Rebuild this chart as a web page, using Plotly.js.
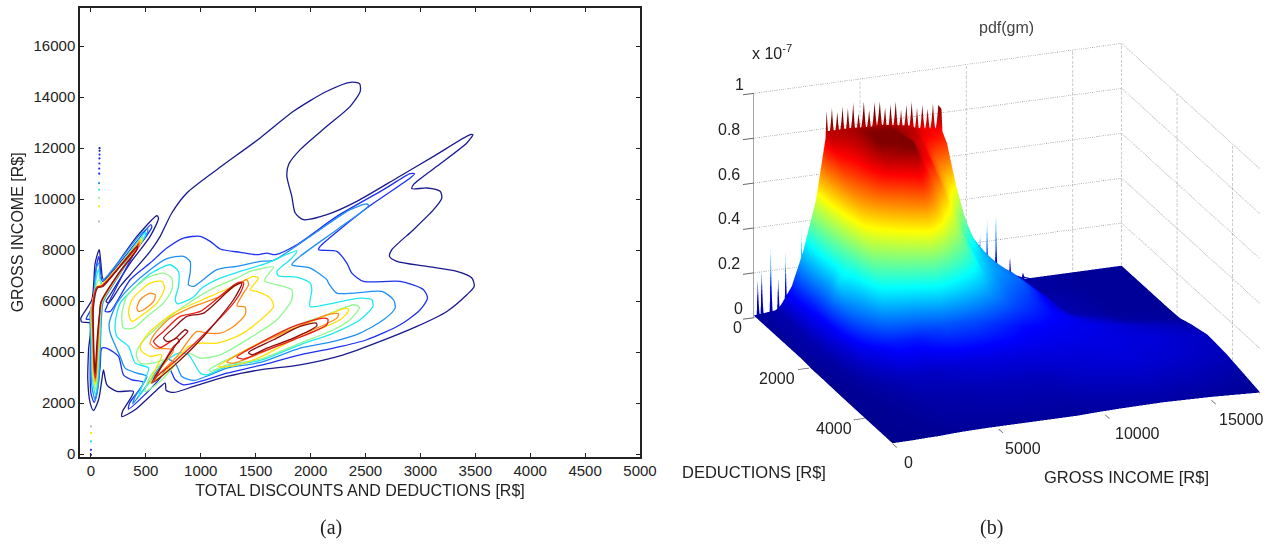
<!DOCTYPE html>
<html><head><meta charset="utf-8">
<script src="https://cdn.plot.ly/plotly-3.0.1.min.js"></script>
<style>html,body{margin:0;padding:0;background:#fff}#c{width:1271px;height:544px}</style>
</head><body><div id="c"></div>
<script>
// ---------- panel (a): contour lines ----------
const xTicks=[0,500,1000,1500,2000,2500,3000,3500,4000,4500,5000];
const yTicks=[0,2000,4000,6000,8000,10000,12000,14000,16000];

const outerX=[539,630,736,873,1146,1541,1844,2148,2361,2446,2452,2361,2148,1905,1799,1784,1829,1860,1936,2148,2421,2786,3120,3453,3478,3423,3150,2937,2922,3059,3180,3195,3120,2937,2740,2719,2786,3059,3332,3469,3490,3423,3241,2968,2634,2300,1905,1541,1238,934,752,685,676,585,402,281,287,387,236,145,114,99,69,23,-7,-29,-22,-7,-83,-92,8,38,75,90,114,418,600,615,539,357,175,138,160,266,357];
const outerY=[7954,8543,9459,10243,11159,12402,13448,14233,14586,14534,14233,13644,12859,11944,11355,10897,10113,9459,9197,9393,9916,10832,11682,12532,12532,12205,11290,10570,10413,10440,10309,10047,9589,8805,8020,7758,7562,7366,7170,6908,6581,6252,5598,5010,4421,3898,3506,3309,3048,2655,2420,2498,2786,2459,1740,1478,1674,2459,2459,2721,3309,2917,2132,1713,2001,2917,4094,5140,5180,5337,6056,7495,8018,7495,6841,8541,9352,9261,8541,7495,6252,5991,5925,6579,7037];

const blueX=[539,691,843,994,1085,1177,1359,1511,1602,1678,1875,2239,2664,2907,2947,2907,2512,2087,2072,2239,2330,2376,2482,2816,3028,3065,2998,2816,2512,2209,1905,1541,1238,995,843,767,721,691,630,448,342,351,478,372,296,251,160,99,84,53,29,-1,-7,-1,2,-44,14,44,72,84,105,418,545,554,387,145,129,175,357];
const blueY=[7497,8085,8478,8543,8347,8046,7915,7824,7889,7824,8216,9328,10374,11002,11002,10832,9655,8151,8020,7953,7495,7103,6776,6776,6449,6122,5664,5075,4487,4160,3898,3479,3178,2851,2721,2917,3309,3375,2982,2158,1766,2001,2812,2917,3113,3832,4120,4159,3440,2394,2027,2394,3440,4748,5271,5297,5794,7233,7756,7364,6775,8345,9000,8907,7822,5794,5598,5598,6841];

const azureX=[539,691,843,903,903,888,934,1146,1328,1541,1662,1996,2361,2512,2528,2239,1905,1829,1996,2148,2163,2239,2391,2649,2755,2770,2664,2451,2209,1905,1541,1238,1086,934,828,767,691,630,478,381,403,509,418,311,266,175,166,236,357];
const azureY=[7235,7667,7758,7562,7104,6646,6581,7235,7366,7562,7601,8543,9589,9812,9746,8805,7758,7431,7300,6843,6710,6318,6318,6383,6056,5729,5271,4748,4421,4160,3597,3374,3113,2891,3048,3571,3728,3440,2524,1975,2263,3048,3178,3375,3832,4748,5140,5925,6553];

const cyanX=[220,266,403,539,721,797,797,767,788,934,1010,1177,1359,1602,1875,1829,1693,1708,1875,1996,2011,1996,2209,2451,2558,2567,2451,2209,1905,1541,1238,1055,995,888,797,661,539,433,463,524,403,342,236];
const cyanY=[5140,5925,6553,7076,7429,7168,6579,6056,5899,6161,6514,6906,7168,7495,7979,7691,7168,6998,6945,6710,6449,5795,5925,6122,6056,5795,5271,4748,4290,3675,3440,3113,3178,3898,3963,3571,2851,2263,2655,3375,3571,4225,4617];

const greenRightX=[1077,1177,1420,1845,2148,2391,2445,2360,2209,1905,1541,1238,1086];
const greenRightY=[3309,3571,4094,5010,5467,5860,5768,5271,4879,4356,3728,3505,3244];
const yellowRightX=[1162,1329,1663,2087,2330,2346,2270,1845,1541,1298];
const yellowRightY=[3440,3898,4617,5337,5729,5637,5271,4486,3806,3466];
const orangeRightX=[1238,1420,1784,2148,2254,2239,1845,1511,1298];
const orangeRightY=[3610,4094,4813,5467,5507,5337,4552,3898,3571];
const redRightX=[1329,1511,1845,2118,2157,2148,1845,1541,1389];
const redRightY=[3806,4290,5010,5337,5297,5075,4486,3989,3728];
const darkRightX=[1435,1663,1905,2051,2057,1845,1602,1465];
const darkRightY=[3989,4486,5010,5140,5036,4552,4159,3898];

const greenBumpX=[281,327,509,661,736,736,661,509,387,296];
const greenBumpY=[5467,6187,6906,7102,6906,6448,5925,5402,4944,4944];
const yellowBumpX=[342,372,539,645,670,600,448,372];
const yellowBumpY=[5533,6056,6710,6775,6514,5925,5402,5206];
const orangeBumpX=[418,448,539,585,570,478,433];
const orangeBumpY=[5729,6056,6318,6252,5991,5664,5598];

const greenMidX=[1829,1829,1693,1420,1177,995,888,782,630,494,539,661,570,448,412,448,630,843,1116,1329,1450,1663,1587,1587,1754];
const greenMidY=[6448,6056,5271,4486,3898,3767,3963,3571,2851,2459,3048,3702,3571,3571,3898,4290,5075,5794,6514,6906,7168,7338,6906,6775,6579];
const yellowMidX=[1480,1526,1450,1511,1632,1663,1511,1329,1146,995,888,782,630,533,570,645,539,463,448,524,752,1086,1329];
const yellowMidY=[6972,6906,6448,6383,6121,5794,5140,4617,4356,4356,4225,3702,3048,2786,3178,3898,3832,4029,4225,4748,5533,6187,6645];
const orangeMidX=[1420,1435,1389,1329,1404,1404,1298,1177,1055,964,782,630,570,600,752,585,539,585,721,934,1177,1329];
const orangeMidY=[6841,6645,6318,5821,5768,5467,5010,4748,4748,4813,3832,3178,2917,3178,4094,4159,4356,4748,5337,5794,6187,6645];
const redMidX=[570,661,812,995,1329,1389,1374,1298,1055,782,600,570,752,806,782,630];
const redMidY=[4421,4813,5402,5598,6710,6736,6448,5925,4813,3702,3048,2851,4225,4421,4552,4186];
const darkMidX=[661,752,873,1025,1298,1374,1298,1025,782,554,797,882,858,752,691];
const darkMidY=[4552,4944,5402,5533,6579,6710,6056,4617,3571,2786,4421,4813,4879,4486,4421];

const azureForkX=[38,8,-1,-7,23,53,72,90,114,433,515,515,327,145,108,84,69];
const azureForkY=[2132,2655,4094,5533,6187,7364,7495,6841,6841,8541,8868,8711,7495,6252,5925,4094,2786];
const cyanForkX=[41,14,8,-1,23,53,72,84,105,433,494,494,311,129,99,78,62];
const cyanForkY=[2328,2917,4225,5533,6121,7037,7233,6841,6671,8384,8698,8567,7495,6187,5925,4094,2917];
const greenForkX=[41,17,11,2,32,59,78,96,424,469,469,296,114,90,72,56];
const greenForkY=[2524,3048,4356,5664,6252,6775,6841,6605,8253,8541,8410,7364,6121,5860,4094,3048];
const yellowForkX=[41,23,14,5,38,65,84,418,454,454,281,108,90,65,53];
const yellowForkY=[2721,3178,4486,5729,6383,6605,6605,8214,8437,8306,7233,6056,5794,4094,3178];
const orangeForkX=[41,26,17,11,47,90,424,442,436,266,99,84,62,50];
const orangeForkY=[2851,3309,4552,5794,6514,6579,8214,8345,8149,7168,5991,5664,4225,3309];
const redForkX=[41,29,20,14,53,99,424,430,424,251,93,81,59,47];
const redForkY=[2982,3375,4617,5794,6553,6605,8175,8253,8083,7076,5991,5598,4356,3375];
const darkForkX=[38,32,23,23,59,108,418,421,236,90,78,56,44];
const darkForkY=[3178,3505,4683,5794,6514,6579,8149,8044,6998,5951,5533,4486,3571];

const speckX=[78,78,78,77,76,75,75,74,74,73,72,72,0,0,0,0,0];
const speckY=[12000,11900,11750,11600,11400,11200,11000,10630,10370,10050,9720,9130,1086,825,498,171,-25];
const speckColor=['#1a1a8f','#1a1a8f','#1c30f0','#1c30f0','#1c30f0','#1c30f0','#1c30f0','#1e90f5','#20e8f0','#90f890','#ffe000','#bbbbbb','#bbbbbb','#ffe000','#20e8f0','#1c30f0','#1a1a8f'];

const jetLines=[
 [outerX,outerY,'#1a1a8f'],[blueX,blueY,'#1c30f0'],[azureX,azureY,'#1e90f5'],[cyanX,cyanY,'#20e8f0'],
 [greenRightX,greenRightY,'#90f890'],[yellowRightX,yellowRightY,'#ffe000'],[orangeRightX,orangeRightY,'#ff8c1a'],[redRightX,redRightY,'#e82020'],[darkRightX,darkRightY,'#8b0f0f'],
 [greenBumpX,greenBumpY,'#90f890'],[yellowBumpX,yellowBumpY,'#ffe000'],[orangeBumpX,orangeBumpY,'#ff8c1a'],
 [greenMidX,greenMidY,'#90f890'],[yellowMidX,yellowMidY,'#ffe000'],[orangeMidX,orangeMidY,'#ff8c1a'],[redMidX,redMidY,'#e82020'],[darkMidX,darkMidY,'#8b0f0f'],
 [azureForkX,azureForkY,'#1e90f5'],[cyanForkX,cyanForkY,'#20e8f0'],[greenForkX,greenForkY,'#90f890'],[yellowForkX,yellowForkY,'#ffe000'],[orangeForkX,orangeForkY,'#ff8c1a'],[redForkX,redForkY,'#e82020'],[darkForkX,darkForkY,'#8b0f0f']
];

// ---------- panel (b): surface ----------
const grossGrid=[0,1000,1660,2200,2800,3300,4500,5700,7000,8700,9500,10700,12700,15000,17300];
const dedGrid=[0,100,300,600,1100,1400,1700,2100,2500,3100,3800,5000];
const pdfRows=[
 [.01,.02,.05,.12,.30,.55,.57,.57,.55,.50,.20,.05,.01,.01,.01],
 [.01,.03,.13,.28,.50,.80,.80,.79,.77,.74,.35,.12,.02,.01,.01],
 [.01,.03,.15,.28,.50,.79,.82,.82,.80,.70,.33,.14,.02,.01,.01],
 [.01,.03,.14,.28,.48,.72,.84,.84,.79,.52,.30,.16,.02,.01,.01],
 [.01,.03,.12,.25,.42,.62,.86,.86,.72,.33,.26,.19,.03,.01,.01],
 [.01,.03,.10,.30,.36,.55,.78,.87,.58,.30,.24,.19,.03,.01,.01],
 [.01,.03,.09,.22,.30,.45,.58,.72,.47,.27,.21,.16,.04,.012,.01],
 [.005,.02,.06,.14,.22,.30,.36,.42,.32,.21,.17,.13,.07,.025,.012],
 [.005,.015,.04,.07,.10,.13,.13,.18,.17,.13,.11,.10,.085,.055,.03],
 [.003,.01,.02,.03,.04,.05,.055,.07,.08,.08,.08,.08,.08,.07,.05],
 [.002,.005,.01,.015,.02,.025,.03,.035,.04,.04,.05,.06,.07,.06,.04],
 [.001,.002,.004,.005,.008,.01,.012,.012,.012,.012,.015,.018,.02,.015,.005]
];
const crestGross=[3300,3425,3550,3675,3800,3925,4050,4175,4300,4425,4550,4675,4800,4925,5050,5175,5300,5425,5550,5675,5800,5925,6050,6175,6300,6425,6550,6675,6800,6925,7050,7175,7300,7425,7550,7675,7800,7925,8050,8175,8300,8425,8550,8700];
const crestDed=[40,100,160];
const crestLow=[.70,.78,.78,.78,.78,.78,.78,.78,.78,.78,.78,.78,.78,.78,.78,.78,.78,.78,.78,.78,.78,.78,.76,.76,.76,.76,.76,.76,.76,.76,.76,.76,.76,.74,.74,.74,.74,.74,.74,.74,.74,.74,.74,.66];
const crestPeak=[.89,.70,.90,.68,.88,.72,.90,.66,.89,.70,.91,.66,.86,.74,.91,.72,.87,.70,.90,.76,.90,.74,.87,.68,.88,.74,.89,.70,.85,.68,.87,.66,.88,.68,.85,.66,.86,.70,.84,.68,.86,.66,.85,.83];
const backGross=[0,140,190,240,325,375,425,750,800,850,1100,1150,1200,1450,1500,1550,2200,2250,2300,2500,6000,10590,10640,10690,10920,10970,11020,11340,11390,11440,12000,12050,12100,12610,12660,12710,13000,17300];
const backPeak=[.01,.01,.165,.01,.01,.21,.01,.01,.30,.01,.01,.16,.01,.01,.27,.01,.01,.39,.01,.02,.02,.02,.25,.02,.02,.31,.02,.02,.33,.02,.02,.12,.02,.02,.04,.02,.01,.01];
const backFlat=[.01,.01,.01,.01,.01,.01,.01,.01,.01,.01,.01,.01,.01,.01,.01,.01,.01,.01,.01,.02,.02,.02,.02,.02,.02,.02,.02,.02,.02,.02,.02,.02,.02,.02,.02,.02,.01,.01];
const backDed=[0,50];
const zTicks=[0,.2,.4,.6,.8,1];
const zLabels=['0','0.2','0.4','0.6','0.8','1'];
const grossTicks=[0,5000,10000,15000];
const dedTicks=[0,2000,4000];
const grossEnd=17300, dedEnd=5000;

const jet=[[0,'#00008f'],[.125,'#0000ff'],[.375,'#00ffff'],[.625,'#ffff00'],[.875,'#ff0000'],[1,'#800000']];
const plain={family:'Liberation Sans, Arial, sans-serif',size:15,color:'#222'};
const titleFont={family:plain.family,size:16,color:'#222'};
const tickText={family:plain.family,size:16,color:'#222'};

const traces=[];
jetLines.forEach(l=>traces.push({type:'scatter',mode:'lines',x:l[0].concat(l[0][0]),y:l[1].concat(l[1][0]),
  line:{color:l[2],width:1.3,shape:'spline',smoothing:.7},hoverinfo:'skip',xaxis:'x',yaxis:'y'}));
traces.push({type:'scatter',mode:'markers',x:speckX,y:speckY,marker:{size:2.2,color:speckColor},hoverinfo:'skip',xaxis:'x',yaxis:'y'});

const surf={type:'surface',showscale:false,cmin:0,cmax:.85,colorscale:jet,hoverinfo:'skip',
  lighting:{ambient:1,diffuse:0,specular:0,roughness:1,fresnel:0},contours:{x:{highlight:false},y:{highlight:false},z:{highlight:false}}};
traces.push(Object.assign({},surf,{x:grossGrid,y:dedGrid,z:pdfRows}));
traces.push(Object.assign({},surf,{x:crestGross,y:crestDed,z:[crestLow,crestPeak,crestLow]}));
traces.push(Object.assign({},surf,{x:backGross,y:backDed,z:[backPeak,backFlat]}));

function wire(xs,ys,zs,col,dash){traces.push({type:'scatter3d',mode:'lines',x:xs,y:ys,z:zs,line:{color:col,width:1.6,dash:dash},hoverinfo:'skip',showlegend:false});}
zTicks.forEach(v=>{wire([0,grossEnd],[0,0],[v,v],'#8a8a8a','dot');wire([grossEnd,grossEnd],[0,dedEnd],[v,v],'#8a8a8a','dot');});
grossTicks.forEach(v=>wire([v,v],[0,0],[0,1],'#8a8a8a','dot'));
wire([grossEnd,grossEnd],[0,0],[0,1],'#8a8a8a','dot');
dedTicks.forEach(v=>wire([grossEnd,grossEnd],[v,v],[0,1],'#8a8a8a','dot'));
wire([0,0],[0,0],[0,1],'#888','solid');

const W=1271,H=544;
const sceneAxis=(vals,range)=>({range:range,tickmode:'array',tickvals:vals,showticklabels:false,showgrid:false,zeroline:false,showbackground:false,
   showline:false,showspikes:false,ticks:'outside',ticklen:12,tickwidth:2,tickcolor:'#666',title:{text:''}});
const tickNote=(x,y,z,text,dx,dy)=>({x:x,y:y,z:z,text:text,showarrow:false,xshift:dx,yshift:dy,xanchor:'center',yanchor:'middle',font:tickText});
const grossShift=[16,24,32,30], dedShift=[-16,-32,-31];
const zShift=[-15,-25,-25,-25,-25,-14];
const sceneNotes=[].concat(
  grossTicks.map((v,i)=>tickNote(v,dedEnd,0,String(v),grossShift[i],-19)),
  dedTicks.map((v,i)=>tickNote(0,v,0,String(v),dedShift[i],-10)),
  zTicks.map((v,i)=>tickNote(0,0,v,zLabels[i],zShift[i],9)));
const k=2.5;
const layout={width:W,height:H,margin:{l:0,r:0,t:0,b:0},paper_bgcolor:'#fff',plot_bgcolor:'#fff',showlegend:false,
 xaxis:{domain:[80/W,640/W],range:[-100,5000],tickvals:xTicks,ticks:'inside',ticklen:4,tickwidth:1,tickcolor:'#222',showgrid:false,zeroline:false,
   showline:true,linecolor:'#222',linewidth:1.5,mirror:'ticks',tickfont:plain,automargin:false,title:{text:'TOTAL DISCOUNTS AND DEDUCTIONS [R$]',font:titleFont,standoff:6}},
 yaxis:{domain:[1-456.7/H,1-8/H],range:[-100,17500],tickvals:yTicks,tickformat:'d',ticks:'inside',ticklen:4,tickwidth:1,tickcolor:'#222',showgrid:false,zeroline:false,
   showline:true,linecolor:'#222',linewidth:1.5,mirror:'ticks',tickfont:plain,automargin:false,title:{text:'GROSS INCOME [R$]',font:titleFont,standoff:6}},
 scene:{domain:{x:[743/W,1],y:[1-487/H,1]},aspectmode:'manual',aspectratio:{x:1.62,y:1.58,z:.984},
   camera:{projection:{type:'orthographic'},eye:{x:-.3378*k,y:-.8737*k,z:.3505*k},center:{x:0,y:0,z:0},up:{x:0,y:0,z:1}},
   xaxis:sceneAxis(grossTicks,[0,grossEnd]),
   yaxis:sceneAxis(dedTicks,[dedEnd,0]),
   zaxis:sceneAxis(zTicks,[0,1]),
   annotations:sceneNotes},
 annotations:[
  {xref:'paper',yref:'paper',x:331/W,y:1-527/H,xanchor:'center',yanchor:'middle',text:'(a)',showarrow:false,font:{family:'Liberation Serif, serif',size:20,color:'#222'}},
  {xref:'paper',yref:'paper',x:991/W,y:1-527/H,xanchor:'center',yanchor:'middle',text:'(b)',showarrow:false,font:{family:'Liberation Serif, serif',size:20,color:'#222'}},
  {xref:'paper',yref:'paper',x:1006/W,y:1-27/H,xanchor:'center',yanchor:'middle',text:'pdf(gm)',showarrow:false,font:{family:plain.family,size:16,color:'#444'}},
  {xref:'paper',yref:'paper',x:772/W,y:1-52/H,xanchor:'center',yanchor:'middle',text:'x 10<sup>-7</sup>',showarrow:false,font:{family:plain.family,size:16,color:'#222'}},
  {xref:'paper',yref:'paper',x:754/W,y:1-472/H,xanchor:'center',yanchor:'middle',text:'DEDUCTIONS [R$]',showarrow:false,font:{family:plain.family,size:16.5,color:'#222'}},
  {xref:'paper',yref:'paper',x:1126/W,y:1-477/H,xanchor:'center',yanchor:'middle',text:'GROSS INCOME [R$]',showarrow:false,font:{family:plain.family,size:16.5,color:'#222'}}
 ]};
Plotly.newPlot('c',traces,layout,{displayModeBar:false});
</script></body></html>
